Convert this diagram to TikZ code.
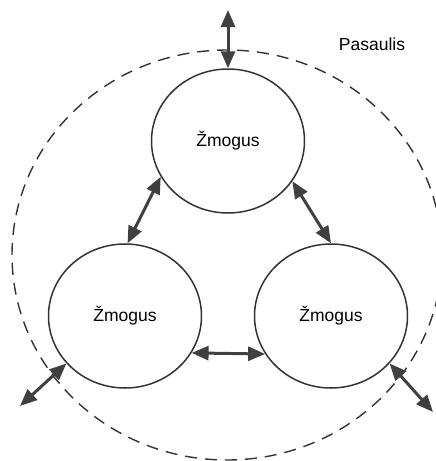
\documentclass[tikz,border=0pt]{standalone}
\usepackage{fontspec}
\setmainfont{Liberation Sans}
\usetikzlibrary{arrows.meta,shapes.geometric}
\definecolor{lc}{HTML}{333333}
\definecolor{ac}{HTML}{404040}
\tikzset{
  person/.style={ellipse, draw=lc, line width=1.5pt, minimum width=153pt, minimum height=144pt, inner sep=0pt, font=\fontsize{17.5}{20}\selectfont},
  link/.style={draw=ac, line width=3pt, {Triangle[length=17pt,width=14pt]}-{Triangle[length=17pt,width=14pt]}},
  world/.style={draw=lc, line width=1.4pt, dash pattern=on 12pt off 8pt}
}
\begin{document}
\begin{tikzpicture}[x=1pt,y=-1pt]
\useasboundingbox (0,0) rectangle (436,461);
\begin{scope}
\clip (0,0) rectangle (436,461);
\draw[world] (227,255) ellipse [x radius=215, y radius=205];
\end{scope}
\node[person] (top) at (228,141) {Žmogus};
\node[person] (left) at (125,316) {Žmogus};
\node[person] (right) at (331,316) {Žmogus};
\node[font=\fontsize{17.5}{20}\selectfont] (world) at (372,44) {Pasaulis};
\coordinate (ptop) at (228,10);
\coordinate (pleft) at (20,406);
\coordinate (pright) at (433,412);
\draw[link] (top.208) -- (left.88);
\draw[link] (top.328) -- (right.90);
\draw[link] (left.331) -- (right.210);
\draw[link] (top.90) -- (ptop);
\draw[link] (left.219) -- (pleft);
\draw[link] (right.321) -- (pright);
\end{tikzpicture}
\end{document}
